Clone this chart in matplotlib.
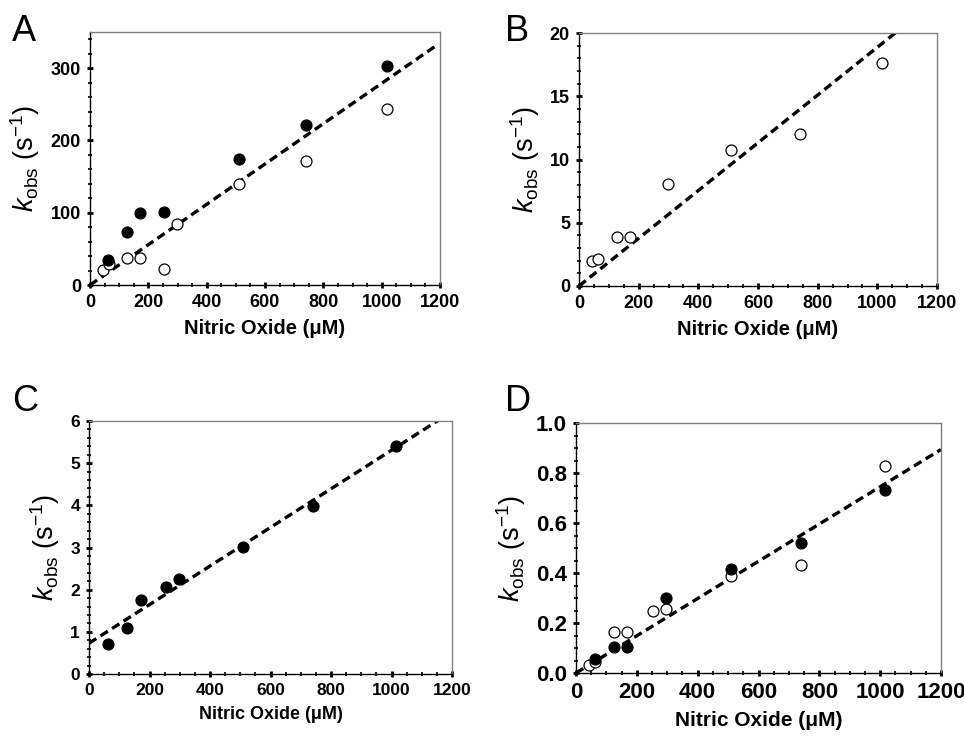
import numpy as np
import matplotlib
matplotlib.use("Agg")
import matplotlib.pyplot as plt
from matplotlib.ticker import MultipleLocator, FormatStrFormatter

plt.rcParams['font.family'] = ['Liberation Sans', 'DejaVu Sans']
plt.rcParams['mathtext.fontset'] = 'custom'
plt.rcParams['mathtext.rm'] = 'Liberation Sans'
plt.rcParams['mathtext.it'] = 'Liberation Sans:italic'

# panel A
a_x_filled = [63, 128, 171, 254, 510, 742, 1018]
a_y_filled = [34, 74, 100, 101, 174, 221, 303]
a_x_open = [43, 65, 128, 171, 254, 299, 510, 742, 1018]
a_y_open = [21, 29, 38, 38, 22, 85, 140, 171, 243]
a_fit = (0.279, 0.0)  # slope, intercept

# panel B
b_x_open = [43, 64, 127, 170, 297, 508, 741, 1016]
b_y_open = [2.0, 2.1, 3.9, 3.9, 8.1, 10.75, 12.0, 17.6]
b_fit = (0.01887, 0.0)

# panel C
c_x_filled = [64, 127, 171, 253, 297, 510, 742, 1016]
c_y_filled = [0.70, 1.08, 1.75, 2.07, 2.26, 3.02, 3.98, 5.41]
c_fit = (0.004577, 0.73)

# panel D
d_x_filled = [61, 126, 167, 297, 508, 740, 1017]
d_y_filled = [0.058, 0.104, 0.104, 0.299, 0.418, 0.521, 0.734]
d_x_open = [43, 64, 126, 169, 253, 297, 508, 740, 1017]
d_y_open = [0.031, 0.045, 0.166, 0.166, 0.25, 0.255, 0.388, 0.431, 0.827]
d_fit = (0.000745, 0.0)

W, H = 964, 737
fig = plt.figure(figsize=(W / 100, H / 100), dpi=100)


def make_axes(left, top, right, bottom):
    return fig.add_axes([left / W, 1 - bottom / H, (right - left) / W, (bottom - top) / H])


def style(ax, ymax, ymajor, yminor, tick_fs, label_fs, ylab_fs, fmt=None):
    ax.set_xlim(0, 1200)
    ax.set_ylim(0, ymax)
    ax.xaxis.set_major_locator(MultipleLocator(200))
    ax.xaxis.set_minor_locator(MultipleLocator(50))
    ax.yaxis.set_major_locator(MultipleLocator(ymajor))
    ax.yaxis.set_minor_locator(MultipleLocator(yminor))
    for s in ['top', 'right']:
        ax.spines[s].set_color('#808080')
        ax.spines[s].set_linewidth(1.0)
    for s in ['left', 'bottom']:
        ax.spines[s].set_color('black')
        ax.spines[s].set_linewidth(1.0)
    ax.tick_params(which='major', direction='inout', length=5, width=2.0,
                   labelsize=tick_fs, pad=4)
    ax.tick_params(which='minor', direction='inout', length=3.5, width=1.2)
    for lab in ax.get_xticklabels() + ax.get_yticklabels():
        lab.set_fontweight('bold')
    if fmt:
        ax.yaxis.set_major_formatter(fmt)
    ax.set_xlabel('Nitric Oxide (\u03bcM)', fontsize=label_fs, fontweight='bold', labelpad=6)
    ax.set_ylabel(r'$k_{\mathrm{obs}}$ (s$^{\mathrm{-1}}$)', fontsize=ylab_fs, labelpad=6)


def fit_line(ax, fit, xmax):
    xs = np.array([0, xmax])
    ax.plot(xs, fit[0] * xs + fit[1], color='black', lw=2.4,
            dashes=(2.6, 1.5), zorder=1)


def pts(ax, x, y, filled):
    ax.scatter(x, y, s=62, facecolor='black' if filled else 'white',
               edgecolor='black', linewidth=0.9, zorder=3 if filled else 2, clip_on=False)


# A
ax = make_axes(90, 32, 440, 285)
style(ax, 350, 100, 20, 13, 14.5, 19.5)
fit_line(ax, a_fit, 1195)
pts(ax, a_x_filled, a_y_filled, True)
pts(ax, a_x_open, a_y_open, False)
fig.text(12 / W, 1 - 41 / H, 'A', fontsize=26)

# B
ax = make_axes(579, 33, 937, 286)
style(ax, 20, 5, 1, 13, 14.5, 19.5)
fit_line(ax, b_fit, 1200)
pts(ax, b_x_open, b_y_open, False)
fig.text(505 / W, 1 - 41 / H, 'B', fontsize=26)

# C
ax = make_axes(89, 421, 452, 674)
style(ax, 6, 1, 0.2, 12.5, 13, 19.5)
fit_line(ax, c_fit, 1200)
pts(ax, c_x_filled, c_y_filled, True)
fig.text(12 / W, 1 - 411 / H, 'C', fontsize=26)

# D
ax = make_axes(576, 423, 941, 673)
style(ax, 1.0, 0.2, 0.05, 16, 15, 19.5, fmt=FormatStrFormatter('%.1f'))
fit_line(ax, d_fit, 1200)
pts(ax, d_x_filled, d_y_filled, True)
pts(ax, d_x_open, d_y_open, False)
fig.text(505 / W, 1 - 411 / H, 'D', fontsize=26)

fig.savefig('out.png', dpi=100, facecolor='white')
